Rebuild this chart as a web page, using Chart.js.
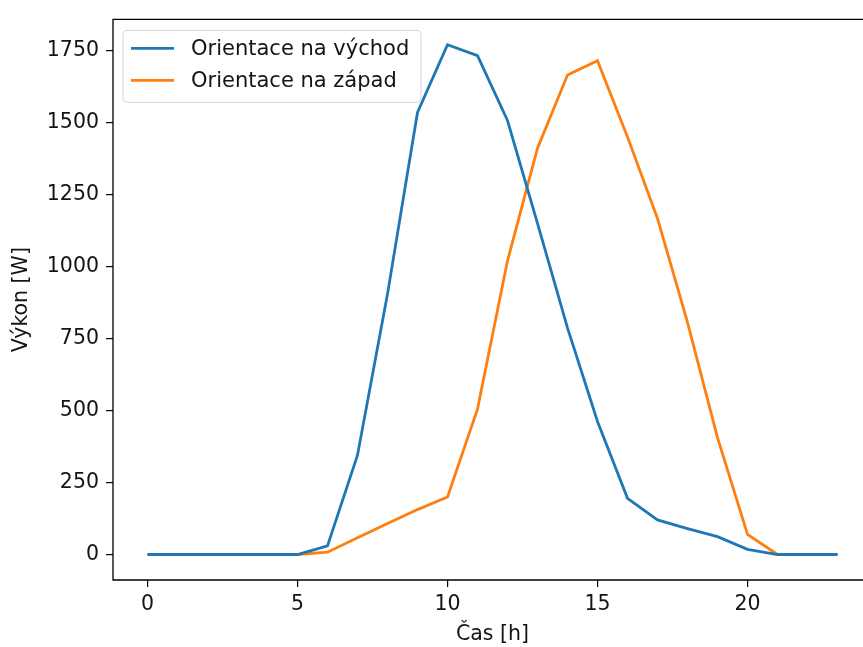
<!DOCTYPE html>
<html>
<head>
<meta charset="utf-8">
<script src="https://cdn.jsdelivr.net/npm/chart.js@4.4.1/dist/chart.umd.min.js"></script>
<style>
  html, body { margin: 0; padding: 0; background: #fff; overflow: hidden; }
  #wrap { width: 900px; height: 647px; }
</style>
</head>
<body>
<div id="wrap"><canvas id="line-chart" width="900" height="647"></canvas></div>
<script>
// hodiny a vykon panelu
const hours = [0, 1, 2, 3, 4, 5, 6, 7, 8, 9, 10, 11, 12, 13, 14, 15, 16, 17, 18, 19, 20, 21, 22, 23];
const eastPower = [0, 0, 0, 0, 0, 0, 30, 345, 905, 1535, 1770, 1732, 1507, 1150, 787, 462, 195, 120, 90, 62, 18, 0, 0, 0];
const westPower = [0, 0, 0, 0, 0, 0, 8, 58, 108, 156, 200, 505, 1020, 1411, 1665, 1715, 1450, 1167, 806, 406, 70, 0, 0, 0];
const seriesLabels = ['Orientace na východ', 'Orientace na západ'];
const seriesColors = ['#1f77b4', '#ff7f0e'];
const xTickValues = [0, 5, 10, 15, 20];
const yTickValues = [0, 250, 500, 750, 1000, 1250, 1500, 1750];

const FONT = 'DejaVu Sans';
const TXT = '#141414';

// ramecek kolem grafu (prava strana je v originalu oriznuta)
const frame = {
  id: 'frame',
  afterDatasetsDraw(chart) {
    const a = chart.chartArea, ctx = chart.ctx;
    ctx.save();
    ctx.strokeStyle = '#000';
    ctx.lineWidth = 1.3;
    ctx.beginPath();
    ctx.moveTo(a.right, a.top);
    ctx.lineTo(a.left, a.top);
    ctx.lineTo(a.left, a.bottom);
    ctx.lineTo(a.right, a.bottom);
    ctx.stroke();
    ctx.restore();
  }
};

// legenda v levem hornim rohu
const boxLegend = {
  id: 'boxLegend',
  afterDraw(chart) {
    const ctx = chart.ctx;
    const x = chart.chartArea.left + 10, y = chart.chartArea.top + 11;
    const w = 298, h = 72, r = 4;
    ctx.save();
    ctx.beginPath();
    ctx.moveTo(x + r, y);
    ctx.arcTo(x + w, y, x + w, y + h, r);
    ctx.arcTo(x + w, y + h, x, y + h, r);
    ctx.arcTo(x, y + h, x, y, r);
    ctx.arcTo(x, y, x + w, y, r);
    ctx.closePath();
    ctx.fillStyle = 'rgba(255,255,255,0.8)';
    ctx.fill();
    ctx.strokeStyle = '#d6d6d6';
    ctx.lineWidth = 1;
    ctx.stroke();
    ctx.font = '21px "' + FONT + '"';
    ctx.textBaseline = 'middle';
    chart.data.datasets.forEach((ds, i) => {
      const cy = y + 18 + i * 32;
      ctx.strokeStyle = ds.borderColor;
      ctx.lineWidth = 2.8;
      ctx.beginPath();
      ctx.moveTo(x + 8, cy);
      ctx.lineTo(x + 51, cy);
      ctx.stroke();
      ctx.fillStyle = TXT;
      ctx.fillText(ds.label, x + 68, cy + 1);
    });
    ctx.restore();
  }
};

const datasets = [eastPower, westPower].map((vals, i) => ({
  label: seriesLabels[i],
  data: hours.map((h, j) => ({ x: h, y: vals[j] })),
  borderColor: seriesColors[i],
  backgroundColor: seriesColors[i],
  borderWidth: 2.8,
  pointRadius: 0,
  tension: 0,
  fill: false
}));

new Chart(document.getElementById('line-chart'), {
  type: 'line',
  data: { datasets },
  plugins: [frame, boxLegend],
  options: {
    responsive: false,
    animation: false,
    devicePixelRatio: 1,
    layout: { padding: { left: 0, top: 13, right: 28, bottom: 0 } },
    plugins: {
      legend: { display: false },
      tooltip: { enabled: false }
    },
    scales: {
      x: {
        type: 'linear',
        min: -1.15,
        max: 24.15,
        border: { display: false },
        grid: { drawOnChartArea: false, drawTicks: true, tickLength: 7, color: '#000', lineWidth: 1.2 },
        afterBuildTicks: s => { s.ticks = xTickValues.map(v => ({ value: v })); },
        afterFit: s => { s.height = 67; },
        ticks: { color: TXT, font: { family: FONT, size: 20.5 }, padding: 5, maxRotation: 0, callback: v => String(v) },
        title: { display: true, text: 'Čas [h]', color: TXT, font: { family: FONT, size: 20.5 }, padding: { top: 4, bottom: 0 } }
      },
      y: {
        min: -88.5,
        max: 1858.5,
        border: { display: false },
        grid: { drawOnChartArea: false, drawTicks: true, tickLength: 7, color: '#000', lineWidth: 1.2 },
        afterBuildTicks: s => { s.ticks = yTickValues.map(v => ({ value: v })); },
        afterFit: s => { s.width = 113; },
        ticks: { color: TXT, font: { family: FONT, size: 20.5 }, padding: 7, callback: v => String(v) },
        title: { display: true, text: 'Výkon [W]', color: TXT, font: { family: FONT, size: 20.5 }, padding: { top: 9, bottom: 0 } }
      }
    }
  }
});
</script>
</body>
</html>
